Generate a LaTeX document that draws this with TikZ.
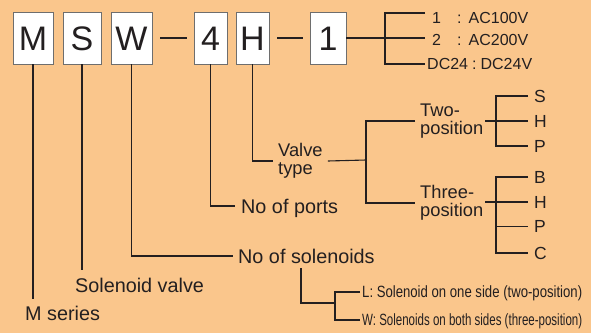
\documentclass[tikz,border=0pt]{standalone}
\usepackage{fontspec}
\setmainfont{Liberation Sans}
\definecolor{bg}{HTML}{FAC68C}
\definecolor{ink}{HTML}{231F20}
\definecolor{boxline}{HTML}{6E6E6E}
\begin{document}
\begin{tikzpicture}[x=1pt,y=-1pt,
  conn/.style={draw=ink, line width=1.1pt},
  box/.style={draw=boxline, fill=white, line width=0.8pt, minimum height=52pt,
    inner sep=0pt, text height=24.5pt, text depth=0pt, text=ink,
    font=\fontsize{34}{34}\selectfont},
  lbl/.style={anchor=west, inner sep=0pt, text=ink, text height=14pt, text depth=0pt,
    font=\fontsize{19.8}{20}\selectfont},
  lbl2/.style={anchor=west, inner sep=0pt, text=ink, align=left,
    font=\fontsize{18.3}{18}\selectfont},
  letter/.style={anchor=west, inner sep=0pt, text=ink, text height=12.5pt, text depth=0pt,
    font=\fontsize{17.5}{18}\selectfont},
  vt/.style={anchor=west, inner sep=0pt, text=ink, text height=11.5pt, text depth=0pt,
    font=\fontsize{16}{16}\selectfont},
  sm/.style={anchor=west, inner sep=0pt, text=ink, text height=11.7pt, text depth=0pt,
    font=\fontsize{16.3}{16}\selectfont}]
\useasboundingbox (0,0) rectangle (591,333);
\fill[bg] (0,0) rectangle (591,333);

% code boxes
\node[box, minimum width=40pt] (bM) at (33,38) {M};
\node[box, minimum width=38pt] (bS) at (82,38) {S};
\node[box, minimum width=41pt] (bW) at (131.5,38) {W};
\node[box, minimum width=33pt] (b4) at (210.5,38) {4};
\node[box, minimum width=33pt] (bH) at (252.5,38) {H};
\node[box, minimum width=36pt] (b1) at (328,38) {1};
\draw[conn, line width=2.4pt] ([xshift=8pt]bW.east) -- ([xshift=-7pt]b4.west);
\draw[conn, line width=2.4pt] ([xshift=8pt]bH.east) -- ([xshift=-7pt]b1.west);

% voltage
\node[vt] (v1) at (432,17.5) {\makebox[25pt][l]{1}:\hspace{7pt}AC100V};
\node[vt] (v2) at (432,39.5) {\makebox[25pt][l]{2}:\hspace{7pt}AC200V};
\node[vt] (v3) at (427,64) {\makebox[45pt][l]{DC24}:\hspace{4pt}DC24V};
\coordinate (jV) at (385,38);
\draw[conn] (b1.east) -- ([xshift=-7pt]b1.east -| v2.west);
\draw[conn] ([xshift=-7pt,yshift=4.5pt]v1.west) -| (jV |- v3.west) -- ([xshift=-2pt]v3.west);

% labels
\node[lbl] (lM) at (25,313) {M series};
\node[lbl] (lSV) at (75,285) {Solenoid valve};
\node[lbl] (lSol) at (238,256) {No of solenoids};
\node[lbl] (lPorts) at (241,206) {No of ports};
\node[lbl2] (lValve) at (278,161) {Valve\\type};
\node[lbl2] (lTwo) at (420,121) {Two-\\position};
\node[lbl2] (lThree) at (420,203) {Three-\\position};

\draw[conn, line width=1.6pt, shorten >=7pt] (bM.south) -- (bM.south |- lM.north);
\draw[conn, shorten >=8pt] (bS.south) -- (bS.south |- lSV.north);
\draw[conn] (bW.south) |- ([xshift=-5pt]lSol.west);
\draw[conn] (b4.south) |- ([xshift=-6pt]lPorts.west);
\draw[conn] (bH.south) |- ([xshift=-5pt]lValve.west);

% valve type tree
\coordinate (jT) at (366,160);
\draw[conn] ([xshift=5pt]lValve.east) -- (jT);
\draw[conn] ([xshift=-5pt]lTwo.west) -| (jT) |- ([xshift=-5pt]lThree.west);

\node[letter] (tS) at (534,96) {S};
\node[letter] (tH1) at (534,121) {H};
\node[letter] (tP1) at (534,146) {P};
\node[letter] (tB) at (534,177) {B};
\node[letter] (tH2) at (534,202) {H};
\node[letter] (tP2) at (534,226.5) {P};
\node[letter] (tC) at (534,253) {C};
\coordinate (jX) at (496,0);
\draw[conn] ([xshift=2pt]lTwo.east |- tH1.west) -- ([xshift=-6pt]tH1.west);
\draw[conn] ([xshift=-6pt]tS.west) -| (jX |- tP1.west) -- ([xshift=-6pt]tP1.west);
\draw[conn] ([xshift=2pt]lThree.east |- tH2.west) -- ([xshift=-6pt]tH2.west);
\draw[conn] ([xshift=-6pt]tB.west) -| (jX |- tC.west) -- ([xshift=-6pt]tC.west);
\draw[conn] (jX |- tP2.west) -- ([xshift=-6pt]tP2.west);

% solenoid sub-options
\node[sm] (tL) at (362,292) {\resizebox{220pt}{\height}{L: Solenoid on one side (two-position)}};
\node[sm] (tW) at (362,320) {\resizebox{220pt}{\height}{W: Solenoids on both sides (three-position)}};
\coordinate (jS) at (301,303);
\coordinate (jY) at (335,0);
\draw[conn] (jS |- lSol.south) ++(0,5) -- (jS) -- (jS -| jY);
\draw[conn] ([xshift=-2pt]tL.west) -| (jY |- tW.west) -- ([xshift=-2pt]tW.west);
\end{tikzpicture}
\end{document}
